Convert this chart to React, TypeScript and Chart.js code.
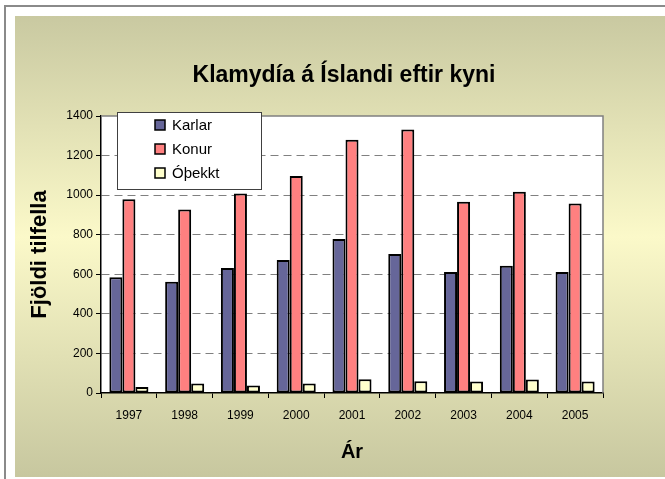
import React, { useEffect, useRef } from "react";
import { Chart, registerables } from "chart.js";

Chart.register(...registerables);

const years = ["1997", "1998", "1999", "2000", "2001", "2002", "2003", "2004", "2005"];
const karlar = [585, 562, 632, 672, 778, 703, 612, 643, 612];
const konur = [979, 928, 1008, 1097, 1280, 1332, 967, 1017, 958];
const othekkt = [30, 48, 38, 48, 70, 60, 58, 68, 58];
const seriesNames = ["Karlar", "Konur", "Óþekkt"];
const seriesColors = ["#666699", "#ff8080", "#ffffcc"];
const chartTitle = "Klamydía á Íslandi eftir kyni";
const yTitle = "Fjöldi tilfella";
const xTitle = "Ár";

const FONT = "'Liberation Sans', Arial, sans-serif";

const backgroundPlugin = {
  id: "bgFrame",
  beforeDraw(chart: any) {
    const { ctx, width, height, chartArea } = chart;
    ctx.save();
    ctx.fillStyle = "#ffffff";
    ctx.fillRect(0, 0, width, height);
    ctx.strokeStyle = "#8a8a8a";
    ctx.lineWidth = 2;
    ctx.beginPath();
    ctx.moveTo(5, height);
    ctx.lineTo(5, 6);
    ctx.lineTo(width, 6);
    ctx.stroke();
    const g = ctx.createLinearGradient(0, 16, 0, 477);
    g.addColorStop(0, "#c9c9a1");
    g.addColorStop(0.48, "#fbf9c9");
    g.addColorStop(1, "#c7c79f");
    ctx.fillStyle = g;
    ctx.fillRect(15, 16, width - 15, 461);
    ctx.fillStyle = "#ffffff";
    ctx.fillRect(chartArea.left, chartArea.top, chartArea.right - chartArea.left, chartArea.bottom - chartArea.top);
    ctx.fillStyle = "#000";
    ctx.font = "bold 23px " + FONT;
    ctx.textAlign = "center";
    ctx.textBaseline = "middle";
    ctx.fillText(chartTitle, 344, 76);
    ctx.restore();
  },
  beforeDatasetsDraw(chart: any) {
    const { ctx, chartArea } = chart;
    ctx.save();
    ctx.strokeStyle = "#808080";
    ctx.lineWidth = 1.5;
    ctx.beginPath();
    ctx.moveTo(chartArea.left, chartArea.top);
    ctx.lineTo(chartArea.right, chartArea.top);
    ctx.lineTo(chartArea.right, chartArea.bottom);
    ctx.stroke();
    ctx.restore();
  },
  afterDraw(chart: any) {
    const { ctx, chartArea } = chart;
    const x = chartArea.left + 16;
    const y = 112;
    const w = 144;
    const h = 77;
    ctx.save();
    ctx.fillStyle = "#ffffff";
    ctx.fillRect(x, y, w, h);
    ctx.strokeStyle = "#404040";
    ctx.lineWidth = 1;
    ctx.strokeRect(x + 0.5, y + 0.5, w, h);
    ctx.font = "15px " + FONT;
    ctx.textAlign = "left";
    ctx.textBaseline = "middle";
    const rows = [125, 149, 173];
    seriesNames.forEach((name, i) => {
      const cy = rows[i];
      ctx.fillStyle = seriesColors[i];
      ctx.fillRect(x + 38, cy - 5, 10, 10);
      ctx.strokeStyle = "#000";
      ctx.lineWidth = 1.5;
      ctx.strokeRect(x + 38, cy - 5, 10, 10);
      ctx.fillStyle = "#000";
      ctx.fillText(name, x + 55, cy + 1);
    });
    ctx.restore();
  },
};

export default function App() {
  const ref = useRef<HTMLCanvasElement>(null);
  useEffect(() => {
    document.body.style.margin = "0";
    const canvas = ref.current!;
    const makeDs = (label: string, data: number[], color: string) => ({
      label,
      data,
      backgroundColor: color,
      borderColor: "#000000",
      borderWidth: 2,
      borderSkipped: false,
      categoryPercentage: 0.7,
      barPercentage: 1.0,
    });
    const chart = new Chart(canvas, {
      type: "bar",
      data: {
        labels: years,
        datasets: [
          makeDs(seriesNames[0], karlar, seriesColors[0]),
          makeDs(seriesNames[1], konur, seriesColors[1]),
          makeDs(seriesNames[2], othekkt, seriesColors[2]),
        ],
      },
      options: {
        animation: false,
        responsive: false,
        events: [],
        layout: { padding: { left: 15, top: 116, right: 62, bottom: 2 } },
        plugins: {
          legend: { display: false },
          title: { display: false },
          tooltip: { enabled: false },
        },
        scales: {
          x: {
            afterFit(scale: any) {
              scale.height = 84;
            },
            grid: {
              drawOnChartArea: false,
              drawTicks: true,
              tickLength: 5,
              tickColor: "#000",
              offset: true,
            },
            border: { display: true, color: "#000", width: 1.5 },
            ticks: {
              color: "#000",
              font: { size: 12, family: FONT },
              padding: 10,
              maxRotation: 0,
            },
            title: {
              display: true,
              text: xTitle,
              color: "#000",
              font: { size: 20, weight: "bold", family: FONT },
              padding: { top: 0, bottom: 13 },
            },
          },
          y: {
            min: 0,
            max: 1400,
            afterFit(scale: any) {
              scale.width = 86;
            },
            grid: {
              color: (c: any) => (c.tick && (c.tick.value === 0 || c.tick.value === 1400) ? "rgba(0,0,0,0)" : "#808080"),
              lineWidth: 1,
              tickLength: 5,
              tickColor: "#000",
            },
            border: { display: true, color: "#000", width: 1.5, dash: [8, 5] },
            ticks: {
              stepSize: 200,
              color: "#000",
              font: { size: 12, family: FONT },
              padding: 3,
              callback: (v: any) => String(v),
            },
            title: {
              display: true,
              text: yTitle,
              color: "#000",
              font: { size: 22, weight: "bold", family: FONT },
              padding: { top: 12, bottom: 0 },
            },
          },
        },
      },
      plugins: [backgroundPlugin],
    } as any);
    return () => chart.destroy();
  }, []);
  return (
    <div style={{ width: 665, height: 479 }}>
      <canvas ref={ref} width={665} height={479} style={{ display: "block" }} />
    </div>
  );
}
